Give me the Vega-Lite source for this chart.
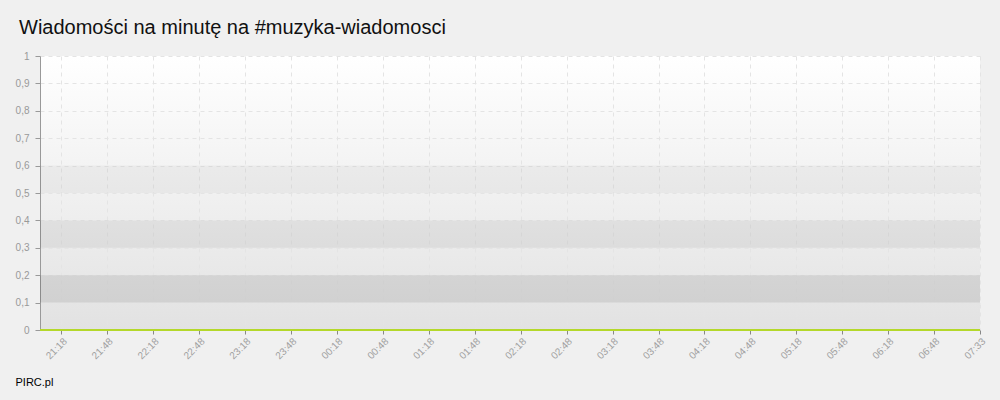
{
  "$schema": "https://vega.github.io/schema/vega-lite/v6.json",
  "autosize": "none",
  "width": 940,
  "height": 274,
  "padding": {"left": 40, "top": 56, "right": 20, "bottom": 70},
  "background": "#f0f0f0",
  "title": {
    "text": "Wiadomości na minutę na #muzyka-wiadomosci",
    "anchor": "start",
    "frame": "group",
    "dx": -21,
    "offset": 13,
    "fontSize": 20,
    "fontWeight": "normal",
    "color": "#111111"
  },
  "config": {
    "font": "Liberation Sans",
    "axisY": {
      "title": null,
      "values": [0, 0.1, 0.2, 0.3, 0.4, 0.5, 0.6, 0.7, 0.8, 0.9, 1],
      "labelExpr": "replace(format(datum.value, '.1~f'), '.', ',')",
      "labelOverlap": false,
      "labelFlush": false,
      "labelFontSize": 10,
      "labelColor": "#999999",
      "labelPadding": 6,
      "tickSize": 5,
      "tickColor": "#999999",
      "domainColor": "#999999",
      "grid": true,
      "gridColor": "#e4e4e4",
      "gridDash": [4, 4]
    },
    "view": {
      "stroke": null,
      "fill": {
        "gradient": "linear",
        "x1": 0, "y1": 0, "x2": 0, "y2": 1,
        "stops": [
          {"offset": 0, "color": "#ffffff"},
          {"offset": 1, "color": "#e2e2e2"}
        ]
      }
    }
  },
  "datasets": {
    "bands": [
      {"lo": 0.1, "hi": 0.2},
      {"lo": 0.3, "hi": 0.4},
      {"lo": 0.5, "hi": 0.6}
    ],
    "msgs": [
      {"t": -14, "msgs": 0},
      {"t": 0, "msgs": 0},
      {"t": 30, "msgs": 0},
      {"t": 60, "msgs": 0},
      {"t": 90, "msgs": 0},
      {"t": 120, "msgs": 0},
      {"t": 150, "msgs": 0},
      {"t": 180, "msgs": 0},
      {"t": 210, "msgs": 0},
      {"t": 240, "msgs": 0},
      {"t": 270, "msgs": 0},
      {"t": 300, "msgs": 0},
      {"t": 330, "msgs": 0},
      {"t": 360, "msgs": 0},
      {"t": 390, "msgs": 0},
      {"t": 420, "msgs": 0},
      {"t": 450, "msgs": 0},
      {"t": 480, "msgs": 0},
      {"t": 510, "msgs": 0},
      {"t": 540, "msgs": 0},
      {"t": 570, "msgs": 0},
      {"t": 600, "msgs": 0}
    ]
  },
  "layer": [
    {
      "data": {"name": "bands"},
      "mark": {"type": "rect", "color": "#000000"},
      "encoding": {
        "x": {"datum": -14, "type": "quantitative"},
        "x2": {"datum": 600},
        "y": {
          "field": "lo",
          "type": "quantitative",
          "scale": {"domain": [0, 1], "nice": false},
          "axis": {"values": [0, 0.1, 0.2, 0.3, 0.4, 0.5, 0.6, 0.7, 0.8, 0.9, 1], "labelOverlap": false}
        },
        "y2": {"field": "hi"},
        "opacity": {
          "field": "lo",
          "type": "quantitative",
          "scale": {"domain": [0.1, 0.5], "range": [0.085, 0.035]},
          "legend": null
        }
      }
    },
    {
      "data": {"name": "msgs"},
      "mark": {"type": "line", "color": "#b4d82a", "strokeWidth": 2},
      "encoding": {
        "x": {
          "field": "t",
          "type": "quantitative",
          "scale": {"domain": [-14, 600], "nice": false, "zero": false},
          "axis": {
            "title": "PIRC.pl",
            "titleX": -25,
            "titleY": 55,
            "titleAlign": "left",
            "titleAnchor": "start",
            "titleBaseline": "alphabetic",
            "titleFontSize": 11,
            "titleFontWeight": "normal",
            "titleColor": "#000000",
            "values": [0, 15, 30, 45, 60, 75, 90, 105, 120, 135, 150, 165, 180, 195, 210, 225, 240, 255, 270, 285, 300, 315, 330, 345, 360, 375, 390, 405, 420, 435, 450, 465, 480, 495, 510, 525, 540, 555, 570, 585, 600],
            "labelExpr": "datum.value % 30 == 0 ? ['21:18','21:48','22:18','22:48','23:18','23:48','00:18','00:48','01:18','01:48','02:18','02:48','03:18','03:48','04:18','04:48','05:18','05:48','06:18','06:48','07:33'][datum.value / 30] : ''",
            "labelAngle": -45,
            "labelFontSize": 10,
            "labelColor": "#a0a0a0",
            "labelPadding": 2,
            "labelOverlap": false,
            "labelFlush": false,
            "tickSize": 4,
            "tickColor": "#888888",
            "tickOpacity": {"condition": {"test": "datum.value % 30 == 0", "value": 1}, "value": 0},
            "domain": false,
            "grid": true,
            "gridColor": "#e4e4e4",
            "gridDash": [4, 4]
          }
        },
        "y": {
          "field": "msgs",
          "type": "quantitative",
          "scale": {"domain": [0, 1], "nice": false},
          "axis": {"values": [0, 0.1, 0.2, 0.3, 0.4, 0.5, 0.6, 0.7, 0.8, 0.9, 1], "labelOverlap": false}
        }
      }
    }
  ]
}
